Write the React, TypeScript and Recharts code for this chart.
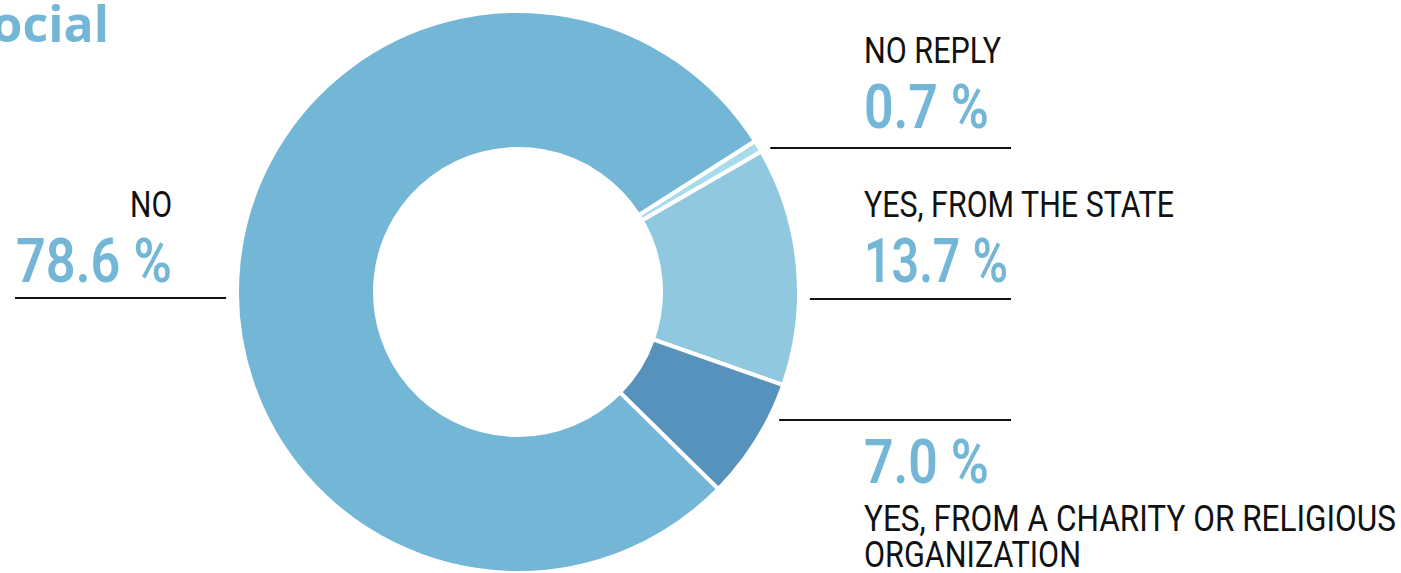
import { PieChart, Pie, Cell } from 'recharts';

const categories = ['NO REPLY', 'YES, FROM THE STATE', 'YES, FROM A CHARITY OR RELIGIOUS ORGANIZATION', 'NO'];
const shares = [0.7, 13.7, 7.0, 78.6];
const labelLines = [
    ['NO REPLY'],
    ['YES, FROM THE STATE'],
    ['YES, FROM A CHARITY OR RELIGIOUS', 'ORGANIZATION'],
    ['NO'],
];
const colors = ['#a6dcec', '#90c9df', '#5792bd', '#74b6d6'];

// where each label sits (hand placed like in the original print layout)
const layout = [
    { side: 'right', lineY: 148, lineEnd: 1011, textX: 864, nameY: [63], nameW: [137], valueY: 128, valueW: 125 },
    { side: 'right', lineY: 299, lineEnd: 1011, textX: 864, nameY: [217], nameW: [310], valueY: 282, valueW: 144 },
    { side: 'right', lineY: 420, lineEnd: 1011, textX: 864, nameY: [531, 567], nameW: [532, 217], valueY: 483, valueW: 125 },
    { side: 'left', lineY: 298, lineEnd: 15, textX: 172, nameY: [217], nameW: [42], valueY: 282, valueW: 156 },
];

const data = categories.map((name, i) => ({ name, value: shares[i] }));

const ACCENT = '#74b6d6';

const renderLabel = (props: any) => {
    const { cx, cy, outerRadius, index } = props;
    const l = layout[index];
    const dir = l.side === 'right' ? 1 : -1;
    const dy = l.lineY - cy;
    const edge = Math.sqrt(Math.max(outerRadius * outerRadius - dy * dy, 0));
    const x1 = cx + dir * (edge + 11);
    const anchor = l.side === 'right' ? 'start' : 'end';
    return (
        <g key={`lbl-${index}`}>
            <line x1={x1} y1={l.lineY} x2={l.lineEnd} y2={l.lineY} stroke="#111" strokeWidth={2} />
            <text
                x={l.textX}
                y={l.valueY}
                textAnchor={anchor}
                fill={ACCENT}
                fontFamily="Roboto, 'Open Sans', sans-serif"
                fontWeight={600}
                fontSize={62}
                textLength={l.valueW}
                lengthAdjust="spacingAndGlyphs"
            >
                {`${shares[index].toFixed(1)} %`}
            </text>
            {labelLines[index].map((t, j) => (
                <text
                    key={j}
                    x={l.textX}
                    y={l.nameY[j]}
                    textAnchor={anchor}
                    fill="#111"
                    fontFamily="Roboto, 'Open Sans', sans-serif"
                    fontSize={37}
                    textLength={l.nameW[j]}
                    lengthAdjust="spacingAndGlyphs"
                >
                    {t}
                </text>
            ))}
        </g>
    );
};

export default function App() {
    return (
        <div style={{ position: 'absolute', left: 0, top: 0, width: 1401, height: 573, background: '#fff' }}>
            <PieChart width={1401} height={573} margin={{ top: 0, right: 0, bottom: 0, left: 0 }}>
                <Pie
                    data={data}
                    dataKey="value"
                    nameKey="name"
                    cx={518}
                    cy={292}
                    innerRadius={143}
                    outerRadius={281}
                    startAngle={32.5}
                    endAngle={-327.5}
                    stroke="#fff"
                    strokeWidth={4}
                    label={renderLabel}
                    labelLine={false}
                    isAnimationActive={false}
                >
                    {data.map((d, i) => (
                        <Cell key={d.name} fill={colors[i]} />
                    ))}
                </Pie>
            </PieChart>
            <svg width={300} height={60} style={{ position: 'absolute', left: 0, top: 0 }}>
                <text x={109} y={42} textAnchor="end" fill={ACCENT} fontFamily="'Open Sans', sans-serif" fontWeight={700} fontSize={50}>
                    Social
                </text>
            </svg>
        </div>
    );
}
